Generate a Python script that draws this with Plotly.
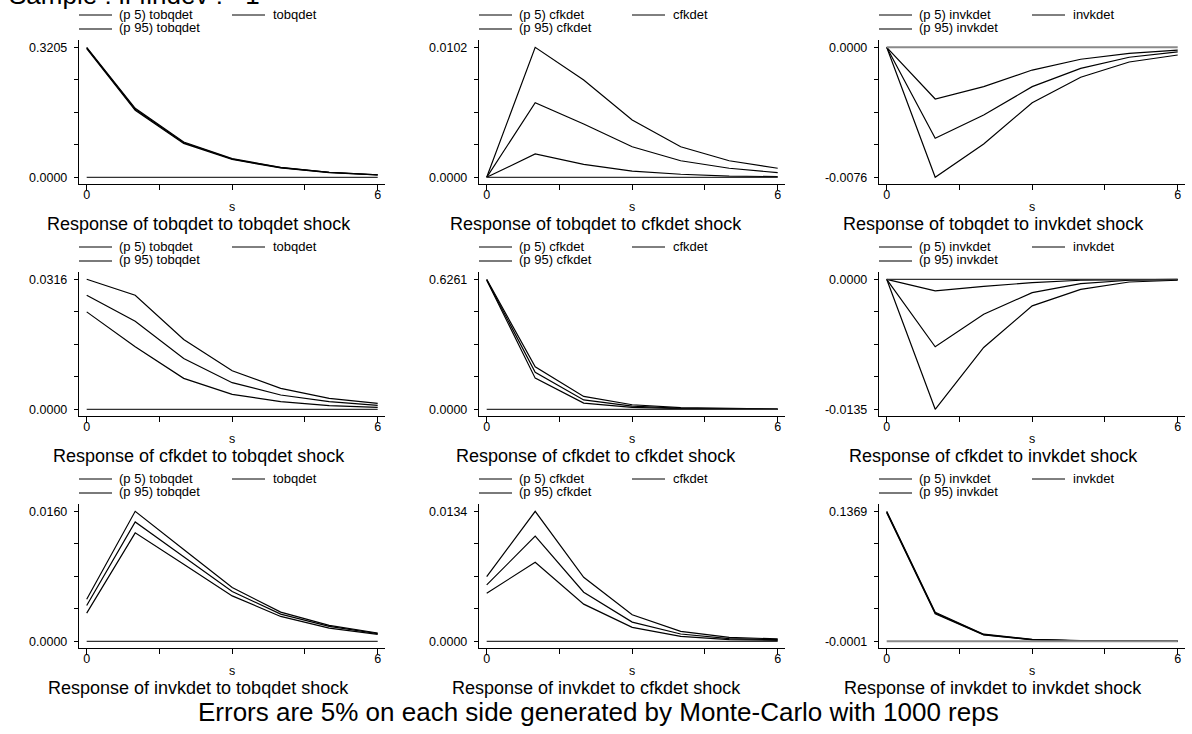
import plotly.graph_objects as go

W, H = 1192, 734
FONT = "Liberation Sans, Arial, Helvetica, sans-serif"

steps = [0, 1, 2, 3, 4, 5, 6]
variables = ["tobqdet", "cfkdet", "invkdet"]

# ---- impulse responses: response of <row variable> to <column variable> shock ----
tobq_tobq_p5 = [0.3175, 0.1652, 0.0836, 0.0440, 0.0230, 0.0114, 0.0057]
tobq_tobq_irf = [0.3190, 0.1676, 0.0853, 0.0451, 0.0237, 0.0119, 0.0060]
tobq_tobq_p95 = [0.3205, 0.1700, 0.0870, 0.0462, 0.0244, 0.0124, 0.0063]

tobq_cfk_p5 = [0.0, 0.00183, 0.00102, 0.00049, 0.00024, 0.00010, 0.00005]
tobq_cfk_irf = [0.0, 0.00585, 0.00418, 0.00240, 0.00130, 0.00071, 0.00036]
tobq_cfk_p95 = [0.0, 0.0102, 0.00763, 0.00450, 0.00240, 0.00130, 0.00071]

tobq_invk_p5 = [0.0, -0.0076, -0.00565, -0.00324, -0.00175, -0.00086, -0.00045]
tobq_invk_irf = [0.0, -0.00532, -0.00396, -0.00230, -0.00123, -0.00058, -0.00027]
tobq_invk_p95 = [0.0, -0.00302, -0.00230, -0.00133, -0.00070, -0.00035, -0.00016]

cfk_tobq_p5 = [0.02368, 0.01519, 0.00752, 0.00364, 0.00186, 0.00089, 0.00048]
cfk_tobq_irf = [0.02772, 0.02142, 0.01236, 0.00647, 0.00348, 0.00186, 0.00097]
cfk_tobq_p95 = [0.0316, 0.02772, 0.01697, 0.00938, 0.00509, 0.00267, 0.00145]

cfk_cfk_p5 = [0.6220, 0.150, 0.030, 0.009, 0.003, 0.001, 0.0003]
cfk_cfk_irf = [0.6240, 0.178, 0.045, 0.015, 0.005, 0.002, 0.0007]
cfk_cfk_p95 = [0.6261, 0.205, 0.062, 0.022, 0.008, 0.003, 0.0010]

cfk_invk_p5 = [0.0, -0.0135, -0.00708, -0.00276, -0.00104, -0.00028, -0.00010]
cfk_invk_irf = [0.0, -0.00701, -0.00363, -0.00138, -0.00045, -0.00010, -0.00003]
cfk_invk_p95 = [0.0, -0.00121, -0.00073, -0.00035, -0.00010, -0.00004, -0.00001]

invk_tobq_p5 = [0.00347, 0.01335, 0.00947, 0.00559, 0.00306, 0.00163, 0.00086]
invk_tobq_irf = [0.00441, 0.01469, 0.01041, 0.00612, 0.00335, 0.00184, 0.00094]
invk_tobq_p95 = [0.00518, 0.0160, 0.01131, 0.00661, 0.00359, 0.00196, 0.00102]

invk_cfk_p5 = [0.00496, 0.00814, 0.00383, 0.00144, 0.00051, 0.00017, 0.00010]
invk_cfk_irf = [0.00581, 0.01084, 0.00506, 0.00198, 0.00075, 0.00027, 0.00017]
invk_cfk_p95 = [0.00667, 0.0134, 0.00660, 0.00273, 0.00103, 0.00041, 0.00024]

invk_invk_p5 = [0.1355, 0.0289, 0.0066, 0.0014, 0.0003, -0.0001, -0.0001]
invk_invk_irf = [0.1362, 0.0297, 0.0070, 0.0017, 0.0005, 0.0002, 0.0000]
invk_invk_p95 = [0.1369, 0.0305, 0.0074, 0.0019, 0.0007, 0.0003, 0.0001]

panels = [
    [(tobq_tobq_p5, tobq_tobq_irf, tobq_tobq_p95),
     (tobq_cfk_p5, tobq_cfk_irf, tobq_cfk_p95),
     (tobq_invk_p5, tobq_invk_irf, tobq_invk_p95)],
    [(cfk_tobq_p5, cfk_tobq_irf, cfk_tobq_p95),
     (cfk_cfk_p5, cfk_cfk_irf, cfk_cfk_p95),
     (cfk_invk_p5, cfk_invk_irf, cfk_invk_p95)],
    [(invk_tobq_p5, invk_tobq_irf, invk_tobq_p95),
     (invk_cfk_p5, invk_cfk_irf, invk_cfk_p95),
     (invk_invk_p5, invk_invk_irf, invk_invk_p95)],
]

x_ticks = [0, 1.5, 3, 4.5, 6]
x_tick_text = ["0", "", "", "", "6"]

fig = go.Figure()
annotations = []
shapes = []


def px_x(v):
    return v / W


def px_y(v):
    return 1 - v / H


for r in range(3):
    for c in range(3):
        k = r * 3 + c + 1
        xa = "x" if k == 1 else f"x{k}"
        ya = "y" if k == 1 else f"y{k}"
        p5, irf, p95 = panels[r][c]
        shock = variables[c]
        resp = variables[r]

        for series, name in ((p5, f"(p 5) {shock}"), (irf, shock), (p95, f"(p 95) {shock}")):
            fig.add_trace(go.Scatter(
                x=steps, y=series, mode="lines", name=name, showlegend=False,
                line=dict(color="black", width=1.2), xaxis=xa, yaxis=ya,
                hoverinfo="skip",
            ))

        # zero reference line
        zcol, zw = ("#8a8a8a", 2) if c == 2 and r != 1 else ("#333333", 1.2)
        shapes.append(dict(type="line", xref=xa, yref=ya, x0=0, x1=6, y0=0, y1=0,
                           line=dict(color=zcol, width=zw)))

        lo = min(min(p5), min(irf), min(p95), 0.0)
        hi = max(max(p5), max(irf), max(p95), 0.0)
        d = hi - lo
        yvals = [lo + d * i / 4 for i in range(5)]
        ytext = [f"{lo:.4f}", "", "", "", f"{hi:.4f}"]

        left = 79.3 + 400 * c
        right = 385 + 400 * c
        top = 40 + 232 * r
        bottom = 184 + 232 * r

        axis_common = dict(showline=True, linecolor="black", linewidth=1,
                           ticks="outside", ticklen=4.5, tickwidth=1, tickcolor="black",
                           showgrid=False, zeroline=False,
                           tickfont=dict(family=FONT, size=12.5, color="black"))
        fig.layout[("xaxis" if k == 1 else f"xaxis{k}")] = dict(
            domain=[px_x(left), px_x(right)], range=[-0.1526, 6.1505],
            anchor=ya, tickvals=x_ticks, ticktext=x_tick_text,
            ticklabelstandoff=-6, **axis_common)
        fig.layout[("yaxis" if k == 1 else f"yaxis{k}")] = dict(
            domain=[px_y(bottom), px_y(top)],
            range=[lo - 6.7 / 130 * d, hi + 7.3 / 130 * d],
            anchor=xa, tickvals=yvals, ticktext=ytext,
            ticklabelstandoff=4, **axis_common)

        # x-axis title
        annotations.append(dict(text="s", xref="paper", yref="paper",
                                x=px_x(232.2 + 400 * c), y=px_y(207.4 + 232 * r),
                                xanchor="center", yanchor="middle", showarrow=False,
                                font=dict(family=FONT, size=12.5, color="black")))
        # panel caption
        annotations.append(dict(text=f"Response of {resp} to {shock} shock",
                                xref="paper", yref="paper",
                                x=px_x(W / 6 * (2 * c + 1)), y=px_y(223.8 + 232 * r),
                                xanchor="center", yanchor="middle", showarrow=False,
                                font=dict(family=FONT, size=18, color="black")))

        # legend keys
        ox, oy = 400 * c, 232 * r
        entries = [
            (79, 112, 15, 117.3, 14.5, f"(p 5) {shock}", "black", 1),
            (232, 265, 15, 270.7, 14.5, shock, "black", 1),
            (79, 112, 29, 117.3, 27.8, f"(p 95) {shock}", "#7a7a7a", 2.2),
        ]
        for x0, x1, ly, tx, ty, label, lc, lw in entries:
            shapes.append(dict(type="line", xref="paper", yref="paper",
                               x0=px_x(x0 + ox), x1=px_x(x1 + ox),
                               y0=px_y(ly + oy), y1=px_y(ly + oy),
                               line=dict(color=lc, width=lw)))
            annotations.append(dict(text=label, xref="paper", yref="paper",
                                    x=px_x(tx + ox), y=px_y(ty + oy),
                                    xanchor="left", yanchor="middle", showarrow=False,
                                    font=dict(family=FONT, size=13, color="black")))

# overall title and note
annotations.append(dict(text="Sample : if findev != 1", xref="paper", yref="paper",
                        x=px_x(7), y=px_y(-4.5), xanchor="left", yanchor="middle",
                        showarrow=False, font=dict(family=FONT, size=26, color="black")))
annotations.append(dict(text="Errors are 5% on each side generated by Monte-Carlo with 1000 reps",
                        xref="paper", yref="paper", x=px_x(598), y=px_y(712),
                        xanchor="center", yanchor="middle", showarrow=False,
                        font=dict(family=FONT, size=26, color="black")))

fig.update_layout(
    width=W, height=H, margin=dict(l=0, r=0, t=0, b=0),
    paper_bgcolor="white", plot_bgcolor="white",
    showlegend=False, annotations=annotations, shapes=shapes,
    font=dict(family=FONT, color="black"),
)

fig.write_html("out.html", include_plotlyjs=True, config={"displayModeBar": False})
